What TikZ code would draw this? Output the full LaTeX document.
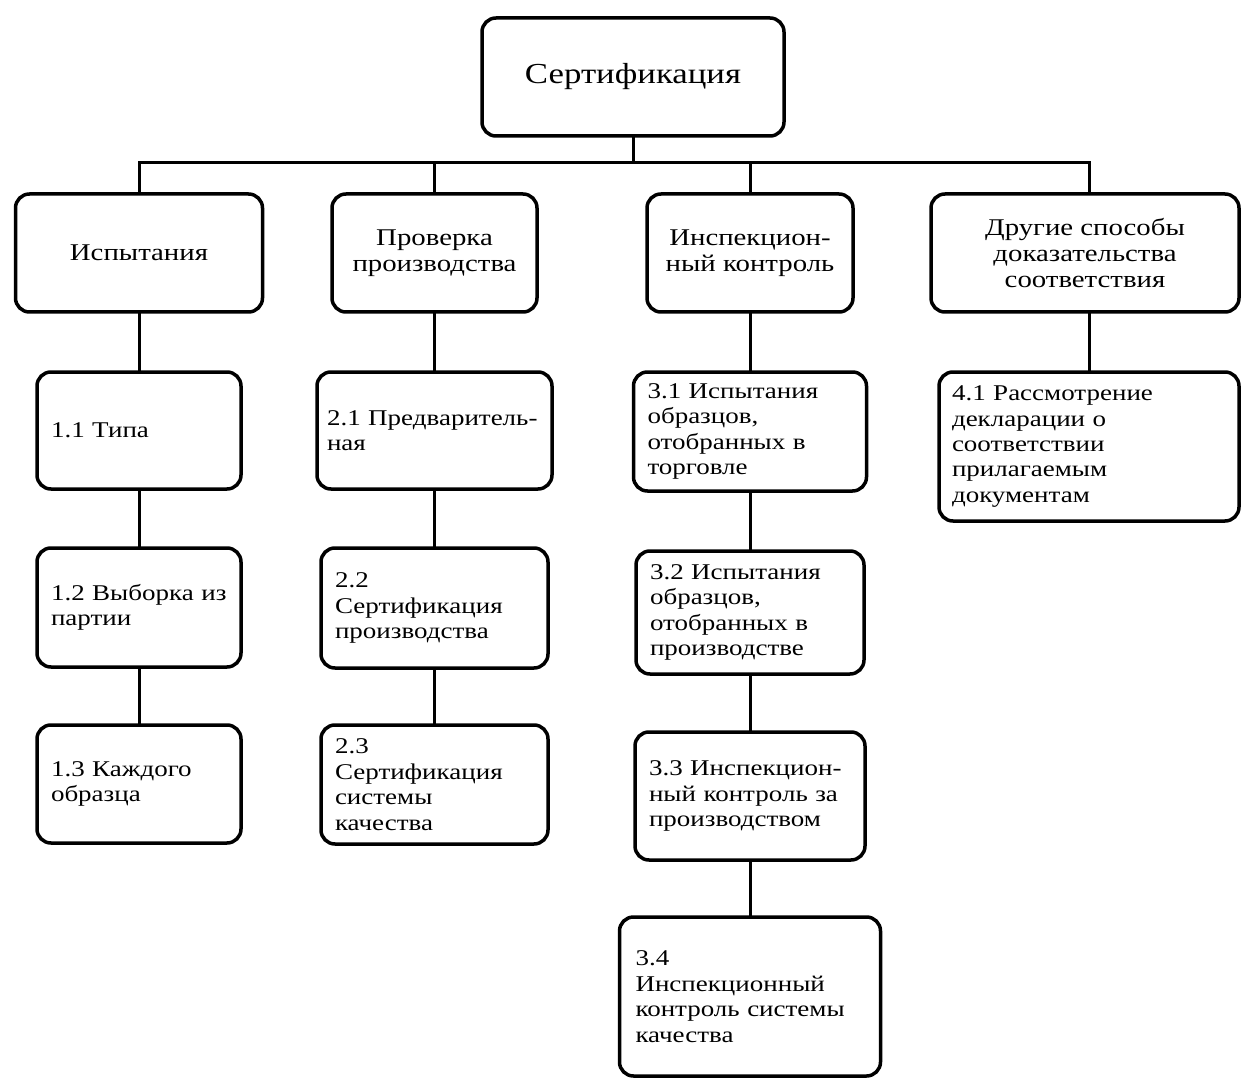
\documentclass[tikz,border=0pt]{standalone}
\usepackage{fontspec}
\setmainfont{Liberation Serif}[FakeStretch=1.2]
\begin{document}
\begin{tikzpicture}[x=1pt,y=-1pt,
  box/.style={draw=black,line width=3.5pt,rounded corners=14pt,fill=white,inner ysep=0pt},
  headbox/.style={box,align=center,font=\fontsize{24}{26}\selectfont},
  leafbox/.style={box,align=left,font=\fontsize{22.5}{25.5}\selectfont,inner xsep=14pt},
  conn/.style={line width=3pt,line cap=rect}]
\useasboundingbox (0,0) rectangle (1245,1083);
% top
\node[box,minimum width=302pt,minimum height=118pt,font=\fontsize{29}{31}\selectfont] (top) at (633,77) {Сертификация};
% level 2
\node[headbox,minimum width=247pt,minimum height=118pt] (b1) at (139,253) {Испытания};
\node[headbox,minimum width=205pt,minimum height=118pt] (b2) at (434.5,253) {Проверка\\производства};
\node[headbox,minimum width=206pt,minimum height=118pt] (b3) at (750,253) {Инспекцион-\\ный контроль};
\node[headbox,minimum width=308pt,minimum height=118pt] (b4) at (1085,253) {Другие способы\\доказательства\\соответствия};
% level 3 col 1
\node[leafbox,minimum width=204pt,minimum height=117pt,text width=176pt] (l11) at (139,430.5) {1.1 Типа};
\node[leafbox,minimum width=204pt,minimum height=119pt,text width=176pt] (l12) at (139,607.5) {1.2 Выборка из\\партии};
\node[leafbox,minimum width=204pt,minimum height=118pt,text width=176pt] (l13) at (139,784) {1.3 Каждого\\образца};
% col 2
\node[leafbox,minimum width=235pt,minimum height=117pt,text width=215pt,inner xsep=10pt] (l21) at (434.5,430.5) {2.1 Предваритель-\\ная};
\node[leafbox,minimum width=225pt,minimum height=120pt,text width=199pt] (l22) at (434.5,608) {2.2\\Сертификация\\производства};
\node[leafbox,minimum width=225pt,minimum height=119pt,text width=199pt] (l23) at (434.5,784.5) {2.3\\Сертификация\\системы\\качества};
% col 3
\node[leafbox,minimum width=233pt,minimum height=119pt,text width=205pt] (l31) at (750,431.5) {3.1 Испытания\\образцов,\\отобранных в\\торговле};
\node[leafbox,minimum width=228pt,minimum height=123pt,text width=200pt] (l32) at (750,612.5) {3.2 Испытания\\образцов,\\отобранных в\\производстве};
\node[leafbox,minimum width=230pt,minimum height=128pt,text width=202pt] (l33) at (750,796) {3.3 Инспекцион-\\ный контроль за\\производством};
\node[leafbox,minimum width=257pt,minimum height=159pt,text width=229pt,inner xsep=16pt] (l34) at (750,996.5) {3.4\\Инспекционный\\контроль системы\\качества};
% col 4
\node[leafbox,minimum width=300pt,minimum height=149pt,text width=274pt,inner xsep=12pt] (l41) at (1089,446.5) {4.1 Рассмотрение\\декларации о\\соответствии\\прилагаемым\\документам};
% connectors
\coordinate (bus) at (633,163);
\draw[conn] (top.south) -- (bus);
\draw[conn] (b1.north |- bus) -- (l41.north |- bus);
\draw[conn] (b1.north |- bus) -- (b1.north);
\draw[conn] (b2.north |- bus) -- (b2.north);
\draw[conn] (b3.north |- bus) -- (b3.north);
\draw[conn] (l41.north |- bus) -- (l41.north |- b4.north);
\draw[conn] (b1.south) -- (l11.north);
\draw[conn] (l11.south) -- (l12.north);
\draw[conn] (l12.south) -- (l13.north);
\draw[conn] (b2.south) -- (l21.north);
\draw[conn] (l21.south) -- (l22.north);
\draw[conn] (l22.south) -- (l23.north);
\draw[conn] (b3.south) -- (l31.north);
\draw[conn] (l31.south) -- (l32.north);
\draw[conn] (l32.south) -- (l33.north);
\draw[conn] (l33.south) -- (l34.north);
\draw[conn] (l41.north |- b4.south) -- (l41.north);
\end{tikzpicture}
\end{document}
